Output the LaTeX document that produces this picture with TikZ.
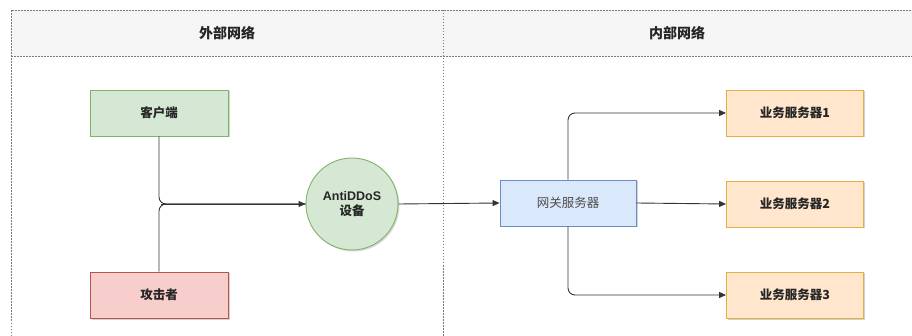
\documentclass[tikz,border=0pt]{standalone}
\usepackage{fontspec}
\newfontfamily\cjk{Noto Sans CJK SC}
\usetikzlibrary{arrows.meta,shadows}
\definecolor{hdrfill}{HTML}{F5F5F5}
\definecolor{lanedash}{HTML}{7A7A7A}
\definecolor{gfill}{HTML}{D5E8D4}\definecolor{gdraw}{HTML}{82B366}
\definecolor{rfill}{HTML}{F8CECC}\definecolor{rdraw}{HTML}{B85450}
\definecolor{bfill}{HTML}{DAE8FC}\definecolor{bdraw}{HTML}{6C8EBF}
\definecolor{ofill}{HTML}{FFE6CC}\definecolor{odraw}{HTML}{E0B040}
\definecolor{wire}{HTML}{333333}
\begin{document}
\begin{tikzpicture}[x=1pt,y=-1pt,
  lane/.style={draw=lanedash,line width=0.9pt,dash pattern=on 1.5pt off 1.5pt},
  hdr/.style={font=\cjk\bfseries\fontsize{14}{16}\selectfont,text=black!85},
  box/.style={rectangle,minimum width=138pt,minimum height=46pt,line width=0.9pt,
    font=\cjk\bfseries\fontsize{12.5}{14}\selectfont,text=black!85,
    drop shadow={shadow xshift=1.5pt,shadow yshift=-1.5pt,opacity=0.35,fill=black!50}},
  conn/.style={draw=wire,line width=0.9pt,rounded corners=7pt},
  arr/.style={conn,-{Triangle[length=7pt,width=6pt]}}]
\useasboundingbox (0,0) rectangle (912,336);
\fill[white] (0,0) rectangle (912,336);
\begin{scope}
\clip (0,0) rectangle (912,336);
\fill[hdrfill] (11,10) rectangle (930,56);
\draw[lane] (11,360) -- (11,10) -- (930,10);
\draw[lane] (11,56) -- (930,56);
\draw[lane] (443,10) -- (443,360);
\end{scope}
\node[hdr] (h1) at (227,33) {外部网络};
\node[hdr] (h2) at (677,33) {内部网络};

\node[box,fill=gfill,draw=gdraw] (client) at (159,113) {客户端};
\node[box,fill=rfill,draw=rdraw] (attack) at (159,295) {攻击者};
\node[circle,minimum size=92pt,inner sep=0pt,fill=gfill,draw=gdraw,line width=0.9pt,
  align=center,font=\fontsize{12.5}{15}\selectfont,text=black!85,
  drop shadow={shadow xshift=1.5pt,shadow yshift=-1.5pt,opacity=0.3,fill=black!50}]
  (anti) at (352,204) {{\fontspec{Liberation Sans}\bfseries AntiDDoS}\\{\cjk\bfseries 设备}};
\node[box,minimum width=136pt,fill=bfill,draw=bdraw,font=\cjk\fontsize{12.5}{14}\selectfont,text=black!70] (gw) at (568,203) {网关服务器};
\node[box,minimum width=137pt,fill=ofill,draw=odraw] (s1) at (795,113) {业务服务器1};
\node[box,minimum width=137pt,fill=ofill,draw=odraw] (s2) at (795,204) {业务服务器2};
\node[box,minimum width=137pt,fill=ofill,draw=odraw] (s3) at (795,295) {业务服务器3};

\coordinate (m) at (161,204);
\draw[conn] (client.south) |- (anti.west);
\draw[conn] (attack.north) |- (anti.west);
\draw[arr] (m) -- (anti.west);
\draw[arr] (anti.east) -- (gw.west);
\draw[arr] (gw.north) |- (s1.west);
\draw[arr] (gw.east) -- (s2.west);
\draw[arr] (gw.south) |- (s3.west);
\end{tikzpicture}
\end{document}
